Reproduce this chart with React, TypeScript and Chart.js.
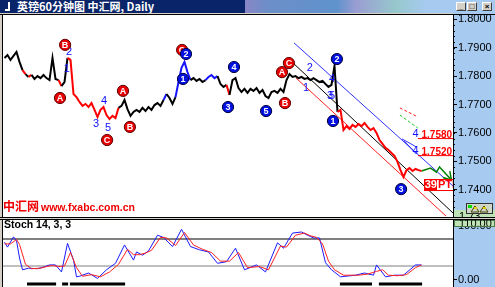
import React, { useEffect, useRef } from "react";
import { Chart, registerables } from "chart.js";

Chart.register(...registerables);

const FONT = "'Liberation Sans', Arial, sans-serif";
const CJK = "'Noto Sans CJK SC', 'Liberation Sans', sans-serif";

const TITLE = "英镑60分钟图 中汇网, Daily";
const WATERMARK_CN = "中汇网";
const WATERMARK_URL = "www.fxabc.com.cn";
const STOCH_LABEL = "Stoch 14, 3, 3";

// price bars (close per bar), 150 slots on the x axis, last 10 are projection space
const BAR_SLOTS = 150;
const closes = [
  1.7864, 1.7874, 1.7857, 1.7871, 1.7885, 1.785, 1.7821, 1.7807, 1.7797, 1.7804,
  1.779, 1.78, 1.7793, 1.7804, 1.7793, 1.7786, 1.7864, 1.779, 1.7786, 1.7765,
  1.7779, 1.7864, 1.7857, 1.7737, 1.7726, 1.7709, 1.7695, 1.7702, 1.7691, 1.7705,
  1.7681, 1.7656, 1.7681, 1.7691, 1.7663, 1.7649, 1.766, 1.7652, 1.7688, 1.7695,
  1.7716, 1.7684, 1.766, 1.7674, 1.7681, 1.7674, 1.7688, 1.7677, 1.7691, 1.7681,
  1.7698, 1.7705, 1.7695, 1.7716, 1.7737, 1.7723, 1.7702, 1.7726, 1.7779, 1.7829,
  1.785, 1.7814, 1.7786, 1.7793, 1.7783, 1.779, 1.7779, 1.7786, 1.7797, 1.7804,
  1.7793, 1.78, 1.7772, 1.7762, 1.7769, 1.7734, 1.7786, 1.7793, 1.7758, 1.7744,
  1.7755, 1.7741, 1.7755, 1.7748, 1.7758, 1.7741, 1.7751, 1.773, 1.7723, 1.7744,
  1.7748, 1.7741, 1.7755, 1.7744, 1.7786, 1.7807, 1.7797, 1.78, 1.7793, 1.7797,
  1.779, 1.7793, 1.7786, 1.7793, 1.7786, 1.7779, 1.7783, 1.7772, 1.7762, 1.7769,
  1.7836, 1.7674, 1.7681, 1.761, 1.7624, 1.7614, 1.7628, 1.7621, 1.7631, 1.7624,
  1.7635, 1.7621, 1.761, 1.7617, 1.76, 1.7575, 1.7561, 1.7547, 1.754, 1.7529,
  1.7519, 1.7498, 1.7469, 1.7445, 1.7469, 1.7476, 1.7466, 1.7473, 1.7469, 1.7466,
];
const redRanges = [[7, 7], [9, 9], [19, 19], [22, 38], [75, 75], [112, 139]];
const blueRanges = [[54, 54], [58, 62], [68, 71]];

const priceTicks = [1.74, 1.75, 1.76, 1.77, 1.78, 1.79, 1.8];
const PRICE_MIN = 1.73039;
const PRICE_MAX = 1.80151;
const minorTickStep = 0.002;

// projection zigzag
const projIdx = [139, 142, 144, 145, 149];
const projPrice = [1.7466, 1.7476, 1.7462, 1.748, 1.7434];

// channel / fib lines: [barIndex, price]
const channelBlue = [[96.5, 1.7917], [149.5, 1.7413]];
const channelBlack = [[96.2, 1.7846], [149.5, 1.7318]];
const channelRed = [[97.2, 1.7793], [147.2, 1.7307]];
const fibRed = [[131.8, 1.7688], [137.8, 1.7656]];
const fibGreen = [[131.8, 1.7663], [137.8, 1.7617]];
const fibBlueA = [[132.5, 1.7579], [137.2, 1.7551]];
const fibBlueB = [[133.2, 1.7572], [137.2, 1.7526]];

const targetLevels = [1.758, 1.752];
const targetFrom = 137.8;
const targetTo = 149.5;
const targetTextAt = 139.0;

const pipsIdx = 139.9;
const pipsPrice = 1.7417;
const pipsNum = "39";
const pipsUnit = "PTI";

// wave labels in circles
const circleText = ["B", "A", "C", "A", "B", "C", "A", "B", "C", "2", "1", "3", "4", "5", "2", "1", "3"];
const circleIdx = [20.2, 18.5, 34.2, 39.5, 41.8, 59.2, 92.5, 93.5, 94.8, 60.5, 59.5, 74.5, 76.5, 87.2, 110.8, 109.5, 132.2];
const circlePrice = [1.791, 1.7723, 1.7575, 1.7748, 1.7621, 1.7892, 1.7814, 1.7705, 1.7846, 1.7878, 1.779, 1.7691, 1.7832, 1.7677, 1.786, 1.7642, 1.7402];

// plain wave numbers
const numText = ["2", "1", "4", "3", "5", "2", "1", "4", "3", "5", "4", "4"];
const numIdx = [21.5, 20.8, 33.2, 30.5, 34.5, 101.8, 100.5, 109.2, 108.5, 109.2, 137.0, 137.0];
const numPrice = [1.7885, 1.7825, 1.7712, 1.7631, 1.7617, 1.7829, 1.7758, 1.779, 1.773, 1.773, 1.7596, 1.7536];

const currentPriceLabel = "1.73";

// stochastic
const stochK = [
  [0, 69], [1, 60], [3, 79], [4, 72], [5, 40], [6, 18], [8, 21], [11, 20], [13, 23], [15, 27],
  [17, 27], [19, 14], [21, 67], [23, 36], [24, 5], [25, 6], [28, 12], [31, 2], [34, 18], [37, 30],
  [40, 64], [43, 36], [44, 51], [46, 45], [48, 53], [51, 82], [53, 78], [56, 61], [59, 93], [62, 61],
  [65, 55], [68, 51], [71, 30], [74, 33], [77, 58], [80, 18], [84, 27], [87, 14], [91, 68], [93, 58],
  [96, 86], [99, 88], [101, 82], [103, 77], [105, 77], [107, 31], [109, 18], [112, 5], [117, 8], [120, 12],
  [123, 8], [124, 27], [127, 5], [130, 8], [133, 8], [137, 27], [139, 27],
];
const stochD = [
  [0, 66], [2, 66], [4, 74], [5, 65], [7, 28], [9, 20], [12, 21], [14, 24], [16, 26], [18, 24],
  [20, 25], [22, 50], [24, 22], [26, 6], [29, 9], [32, 5], [35, 14], [38, 28], [41, 56], [43, 46],
  [45, 46], [47, 49], [49, 54], [52, 78], [54, 77], [57, 63], [60, 87], [63, 64], [66, 56], [69, 50],
  [72, 34], [75, 34], [78, 50], [81, 22], [85, 24], [88, 18], [92, 62], [94, 60], [97, 82], [100, 86],
  [102, 81], [104, 78], [106, 66], [108, 34], [110, 18], [113, 8], [118, 8], [121, 10], [124, 15], [126, 18],
  [128, 8], [131, 7], [134, 9], [137, 22], [139, 27],
];
const stochUpper = 75;
const stochLower = 25;
const stochTicks = [0, 100];
const stochTopLabel = "110.00";
const STOCH_MIN = -13.87;
const STOCH_MAX = 110.2;
const stochBars = [[7.5, 17.2], [19.2, 21.2], [21.8, 40.2], [111.8, 122.5], [124.8, 139.2]];
const STOCH_BAR_LEVEL = -8.3;

const AXIS_BG = "#a6caf0";
const WIN_BG = "#d4d0c8";

function inRanges(i: number, ranges: number[][]) {
  for (const r of ranges) if (i >= r[0] && i <= r[1]) return true;
  return false;
}
function priceColor(i: number) {
  if (inRanges(i, redRanges)) return "#ff0000";
  if (inRanges(i, blueRanges)) return "#1414ff";
  return "#000000";
}
function seg(points: number[][], color: string, width: number, dash: number[] = []) {
  return {
    data: points.map((p) => ({ x: p[0], y: p[1] })),
    borderColor: color,
    borderWidth: width,
    borderDash: dash,
    pointRadius: 0,
    fill: false,
    tension: 0,
  };
}

const mainDecor = {
  id: "mainDecor",
  beforeDraw(chart: any) {
    const { ctx, chartArea: a, width, height } = chart;
    ctx.save();
    ctx.fillStyle = WIN_BG;
    ctx.fillRect(0, 0, width, height);
    ctx.fillStyle = AXIS_BG;
    ctx.fillRect(a.right, 0, width - a.right, height);
    ctx.fillStyle = "#ffffff";
    ctx.fillRect(a.left, a.top, a.right - a.left, a.bottom - a.top);
    ctx.restore();
  },
  afterDatasetsDraw(chart: any) {
    const { ctx, chartArea: a } = chart;
    const xs = chart.scales.x;
    const ys = chart.scales.y;
    ctx.save();
    ctx.beginPath();
    ctx.rect(a.left, a.top, a.right - a.left, a.bottom - a.top);
    ctx.clip();

    // projection arrow head
    const n = projIdx.length;
    const tx = xs.getPixelForValue(projIdx[n - 1]);
    const ty = ys.getPixelForValue(projPrice[n - 1]);
    const fx = xs.getPixelForValue(projIdx[n - 2]);
    const fy = ys.getPixelForValue(projPrice[n - 2]);
    const ang = Math.atan2(ty - fy, tx - fx);
    ctx.strokeStyle = "#008000";
    ctx.lineWidth = 1.5;
    for (const d of [-0.55, 0.55]) {
      ctx.beginPath();
      ctx.moveTo(tx, ty);
      ctx.lineTo(tx - 9 * Math.cos(ang + d), ty - 9 * Math.sin(ang + d));
      ctx.stroke();
    }

    // target level labels
    ctx.font = `bold 10px ${FONT}`;
    ctx.textAlign = "left";
    ctx.textBaseline = "alphabetic";
    ctx.fillStyle = "#ff0000";
    for (const v of targetLevels) {
      ctx.fillText(v.toFixed(4), xs.getPixelForValue(targetTextAt), Math.round(ys.getPixelForValue(v)) - 1);
    }

    // pips box
    const px = xs.getPixelForValue(pipsIdx);
    const py = ys.getPixelForValue(pipsPrice);
    ctx.font = `bold 11px ${FONT}`;
    ctx.textBaseline = "middle";
    const w1 = ctx.measureText(pipsNum).width;
    const w2 = ctx.measureText(pipsUnit).width;
    ctx.fillStyle = "#ff0000";
    ctx.fillRect(Math.round(px), Math.round(py - 6), Math.round(w1 + 1), 12);
    ctx.strokeStyle = "#ff0000";
    ctx.lineWidth = 1;
    ctx.strokeRect(Math.round(px) + 0.5, Math.round(py - 6) + 0.5, Math.round(w1 + w2 + 2), 11);
    ctx.fillStyle = "#ffffff";
    ctx.fillText(pipsNum, px + 0.5, py + 0.5);
    ctx.fillStyle = "#ff0000";
    ctx.fillText(pipsUnit, px + w1 + 1.5, py + 0.5);

    // plain wave numbers
    ctx.font = `11px ${FONT}`;
    ctx.textAlign = "center";
    ctx.fillStyle = "#1010ff";
    numText.forEach((t, i) => {
      ctx.fillText(t, xs.getPixelForValue(numIdx[i]), ys.getPixelForValue(numPrice[i]));
    });

    // circled wave labels
    circleText.forEach((t, i) => {
      const cx = xs.getPixelForValue(circleIdx[i]);
      const cy = ys.getPixelForValue(circlePrice[i]);
      const isLetter = /[A-Z]/.test(t);
      ctx.beginPath();
      ctx.arc(cx, cy, 5.6, 0, Math.PI * 2);
      ctx.fillStyle = isLetter ? "#e80000" : "#0010e0";
      ctx.fill();
      ctx.lineWidth = 1;
      ctx.strokeStyle = isLetter ? "#600000" : "#000040";
      ctx.stroke();
      ctx.fillStyle = "#ffffff";
      ctx.font = `bold 9px ${FONT}`;
      ctx.textAlign = "center";
      ctx.textBaseline = "middle";
      ctx.fillText(t, cx, cy + 0.5);
    });

    // watermark
    ctx.textAlign = "left";
    ctx.textBaseline = "alphabetic";
    ctx.fillStyle = "#f00000";
    ctx.font = `bold 12px ${CJK}`;
    const baseY = 198;
    ctx.fillText(WATERMARK_CN, 3, baseY);
    const cnW = ctx.measureText(WATERMARK_CN).width;
    ctx.font = `bold 11px ${FONT}`;
    const uw = ctx.measureText(WATERMARK_URL).width;
    ctx.save();
    ctx.translate(3 + cnW + 2, baseY);
    ctx.scale(94 / uw, 1);
    ctx.fillText(WATERMARK_URL, 0, 0);
    ctx.restore();

    ctx.restore();
  },
  afterDraw(chart: any) {
    const { ctx, chartArea: a, width } = chart;
    const ys = chart.scales.y;
    ctx.save();
    // minor ticks on the axis
    ctx.fillStyle = "#000";
    for (let v = PRICE_MAX; v > PRICE_MIN; v -= minorTickStep) {
      const q = Math.round(v / minorTickStep) * minorTickStep;
      ctx.fillRect(a.right + 1, Math.round(ys.getPixelForValue(q)), 1, 1);
    }
    // current price box + icon
    ctx.fillStyle = "#bfe3b4";
    ctx.fillRect(a.right + 1, a.bottom - 7, width - a.right - 1, 7);
    ctx.save();
    ctx.beginPath();
    ctx.rect(a.right + 1, a.bottom - 7, width - a.right - 1, 7);
    ctx.clip();
    ctx.fillStyle = "#000";
    ctx.font = `11px ${FONT}`;
    ctx.textAlign = "left";
    ctx.textBaseline = "top";
    ctx.fillText(currentPriceLabel, a.right + 6, a.bottom - 6);
    ctx.restore();
    const ix = 466, iy = a.bottom - 14, iw = 27, ih = 11;
    ctx.fillStyle = "#cfd8c8";
    ctx.fillRect(ix, iy, iw, ih);
    ctx.strokeStyle = "#303030";
    ctx.lineWidth = 1;
    ctx.strokeRect(ix + 0.5, iy + 0.5, iw - 1, ih - 1);
    ctx.fillStyle = "#00e000";
    ctx.fillRect(ix + 2, iy + 2, 4, 3);
    ctx.strokeStyle = "#404000";
    ctx.beginPath();
    ctx.moveTo(ix + 5, iy + 9); ctx.lineTo(ix + 9, iy + 3); ctx.lineTo(ix + 13, iy + 9); ctx.closePath();
    ctx.moveTo(ix + 14, iy + 9); ctx.lineTo(ix + 18, iy + 3); ctx.lineTo(ix + 22, iy + 9); ctx.closePath();
    ctx.stroke();
    ctx.fillStyle = "#e8d000";
    ctx.fillRect(ix + 8, iy + 4, 3, 2);
    ctx.fillRect(ix + 17, iy + 4, 3, 2);
    // frame lines
    ctx.fillStyle = "#000";
    ctx.fillRect(0, a.top - 1, width, 1);
    ctx.fillRect(0, a.bottom, width, 1);
    ctx.fillRect(a.left - 1, a.top - 1, 1, a.bottom - a.top + 2);
    ctx.restore();
  },
};

const stochDecor = {
  id: "stochDecor",
  beforeDraw(chart: any) {
    const { ctx, chartArea: a, width, height } = chart;
    ctx.save();
    ctx.fillStyle = WIN_BG;
    ctx.fillRect(0, 0, width, height);
    ctx.fillStyle = AXIS_BG;
    ctx.fillRect(a.right, a.top, width - a.right, height - a.top);
    ctx.fillStyle = "#ffffff";
    ctx.fillRect(a.left, a.top, a.right - a.left, a.bottom - a.top);
    ctx.restore();
  },
  afterDraw(chart: any) {
    const { ctx, chartArea: a, width } = chart;
    ctx.save();
    ctx.fillStyle = "#000";
    ctx.fillRect(0, a.top - 1, width, 1);
    ctx.fillRect(a.left - 1, a.top - 1, 1, a.bottom - a.top + 1);
    ctx.font = `bold 10.5px ${FONT}`;
    ctx.textAlign = "left";
    ctx.textBaseline = "alphabetic";
    ctx.fillText(STOCH_LABEL, a.left + 1, a.top + 8);
    // top label box
    ctx.fillStyle = "#bfe3b4";
    ctx.fillRect(a.right + 1, a.top, width - a.right - 1, 6);
    ctx.strokeStyle = "#4a7a4a";
    ctx.lineWidth = 1;
    ctx.strokeRect(a.right + 1.5, a.top + 0.5, width - a.right - 2, 6);
    ctx.save();
    ctx.beginPath();
    ctx.rect(a.right + 1, a.top, width - a.right - 1, 6);
    ctx.clip();
    ctx.fillStyle = "#000";
    ctx.font = `11px ${FONT}`;
    ctx.textBaseline = "top";
    ctx.fillText(stochTopLabel, a.right + 6, a.top - 2);
    ctx.restore();
    ctx.restore();
  },
};

function yAxisCommon(width: number) {
  return {
    position: "right",
    afterFit: (s: any) => {
      s.width = width;
      s.paddingTop = 0;
      s.paddingBottom = 0;
    },
    grid: { drawOnChartArea: false, drawTicks: true, tickLength: 4, color: "#000", lineWidth: 1 },
    border: { display: true, color: "#000", width: 1 },
  };
}

export default function App() {
  const mainRef = useRef<HTMLCanvasElement>(null);
  const stochRef = useRef<HTMLCanvasElement>(null);

  useEffect(() => {
    const priceData = closes.map((c, i) => ({ x: i, y: c }));
    const projData = projIdx.map((ix, i) => ({ x: ix, y: projPrice[i] }));
    const main = new Chart(mainRef.current as HTMLCanvasElement, {
      type: "line",
      data: {
        datasets: [
          {
            data: priceData,
            borderColor: "#000",
            borderWidth: 2,
            pointRadius: 0,
            tension: 0,
            segment: { borderColor: (c: any) => priceColor(c.p1DataIndex) },
          } as any,
          { data: projData, borderColor: "#008000", borderWidth: 1.5, pointRadius: 0, tension: 0 },
          ...targetLevels.map((v) => seg([[targetFrom, v], [targetTo, v]], "#ff0000", 1)),
          seg(channelBlue, "#3030ff", 1),
          seg(channelBlack, "#000000", 1),
          seg(channelRed, "#ff2020", 1),
          seg(fibRed, "#ff2020", 1, [3, 2]),
          seg(fibGreen, "#20d020", 1, [3, 2]),
          seg(fibBlueA, "#3030ff", 1),
          seg(fibBlueB, "#3030ff", 1),
        ],
      },
      options: {
        animation: false,
        responsive: false,
        maintainAspectRatio: false,
        devicePixelRatio: 1,
        events: [],
        layout: { padding: { left: 3, top: 2, bottom: 1, right: 0 } },
        plugins: { legend: { display: false }, tooltip: { enabled: false } },
        scales: {
          x: { type: "linear", min: -0.5, max: BAR_SLOTS - 0.5, display: false },
          y: {
            ...yAxisCommon(42),
            min: PRICE_MIN,
            max: PRICE_MAX,
            afterBuildTicks: (s: any) => {
              s.ticks = priceTicks.map((v) => ({ value: v }));
            },
            ticks: {
              color: "#000",
              font: { family: FONT, size: 11 },
              padding: 1,
              autoSkip: false,
              callback: (v: any) => Number(v).toFixed(4),
            },
          } as any,
        },
      },
      plugins: [mainDecor],
    } as any);

    const st = new Chart(stochRef.current as HTMLCanvasElement, {
      type: "line",
      data: {
        datasets: [
          seg(stochD.map((p) => [p[0], p[1]]), "#ff2020", 1),
          seg(stochK.map((p) => [p[0], p[1]]), "#1a1aff", 1),
          seg([[-0.5, stochUpper], [BAR_SLOTS - 0.5, stochUpper]], "#000000", 1),
          seg([[-0.5, stochLower], [BAR_SLOTS - 0.5, stochLower]], "#808080", 1),
          ...stochBars.map((b) => ({
            ...seg([[b[0], STOCH_BAR_LEVEL], [b[1], STOCH_BAR_LEVEL]], "#000000", 3),
            borderCapStyle: "butt",
          })),
        ],
      },
      options: {
        animation: false,
        responsive: false,
        maintainAspectRatio: false,
        devicePixelRatio: 1,
        events: [],
        layout: { padding: { left: 3, top: 2, bottom: 0, right: 0 } },
        plugins: { legend: { display: false }, tooltip: { enabled: false } },
        scales: {
          x: { type: "linear", min: -0.5, max: BAR_SLOTS - 0.5, display: false },
          y: {
            ...yAxisCommon(42),
            min: STOCH_MIN,
            max: STOCH_MAX,
            afterBuildTicks: (s: any) => {
              s.ticks = stochTicks.map((v) => ({ value: v }));
            },
            ticks: {
              color: "#000",
              font: { family: FONT, size: 11 },
              padding: 1,
              autoSkip: false,
              callback: (v: any) => Number(v).toFixed(2),
            },
          } as any,
        },
      },
      plugins: [stochDecor],
    } as any);

    return () => {
      main.destroy();
      st.destroy();
    };
  }, []);

  const btn = (left: number, glyph: string) => (
    <div
      style={{
        position: "absolute",
        left,
        top: 2,
        width: 10,
        height: 9,
        boxSizing: "border-box",
        background: WIN_BG,
        borderTop: "1px solid #fff",
        borderLeft: "1px solid #fff",
        borderRight: "1px solid #404040",
        borderBottom: "1px solid #404040",
        font: `bold 8px ${FONT}`,
        lineHeight: "7px",
        textAlign: "center",
        color: "#000",
      }}
    >
      {glyph}
    </div>
  );

  return (
    <div
      style={{
        position: "fixed",
        left: 0,
        top: 0,
        width: 495,
        height: 287,
        background: WIN_BG,
        overflow: "hidden",
      }}
    >
      <div
        style={{
          position: "absolute",
          left: 0,
          top: 0,
          width: 495,
          height: 13,
          background:
            "linear-gradient(90deg, #0a246a 0%, #0a246a 49.4%, #8886c6 49.6%, #6c8ec8 54%, #5f92cc 68%, #9a9ed2 72%, #96c8cc 80%, #a6caf0 86%, #a6caf0 100%)",
        }}
      >
        <div style={{ position: "absolute", left: 8, top: 2, width: 2, height: 9, background: "#fff" }} />
        <div style={{ position: "absolute", left: 5, top: 9, width: 4, height: 2, background: "#fff" }} />
        <div
          style={{
            position: "absolute",
            left: 17,
            top: 0,
            color: "#fff",
            font: `bold 11px ${CJK}`,
            lineHeight: "13px",
            whiteSpace: "nowrap",
          }}
        >
          {TITLE}
        </div>
        {btn(456, "_")}
        {btn(467, "□")}
        {btn(482, "×")}
      </div>
      <canvas
        ref={mainRef}
        width={495}
        height={205}
        style={{ position: "absolute", left: 0, top: 13, width: 495, height: 205 }}
      />
      <canvas
        ref={stochRef}
        width={495}
        height={69}
        style={{ position: "absolute", left: 0, top: 218, width: 495, height: 69 }}
      />
    </div>
  );
}
